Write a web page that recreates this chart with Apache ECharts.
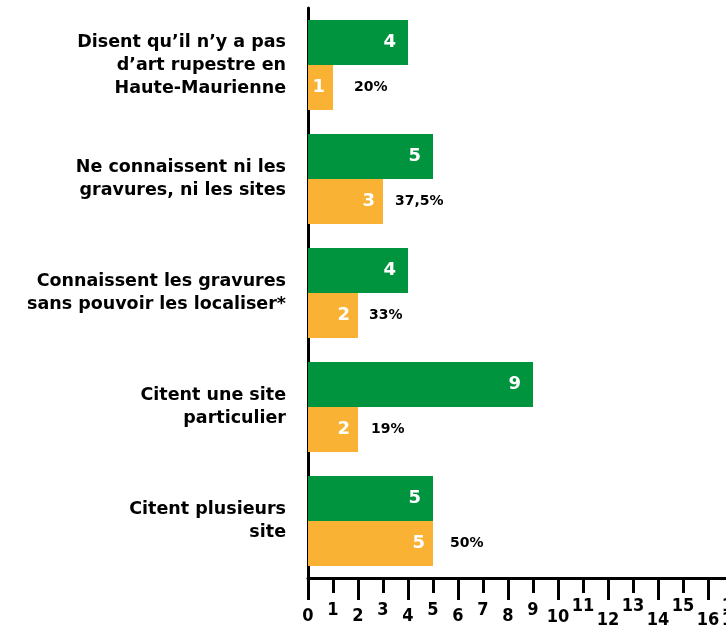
<!DOCTYPE html>
<html><head><meta charset="utf-8">
<script src="https://cdn.jsdelivr.net/npm/echarts@6/dist/echarts.min.js"></script>
<style>html,body{margin:0;padding:0;background:#fff;overflow:hidden}#c{width:760px;height:632px}</style>
</head><body><div id="c"></div>
<script>
const categories = [
  "Disent qu\u2019il n\u2019y a pas\nd\u2019art rupestre en\nHaute-Maurienne",
  "Ne connaissent ni les\ngravures, ni les sites",
  "Connaissent les gravures\nsans pouvoir les localiser*",
  "Citent une site\nparticulier",
  "Citent plusieurs\nsite"
];
const greenValues = [4, 5, 4, 9, 5];
const orangeValues = [1, 3, 2, 2, 5];
const percentLabels = ["20%", "37,5%", "33%", "19%", "50%"];

const FONT = '"DejaVu Sans", sans-serif';
const AXFONT = '"DejaVu Sans Condensed", "DejaVu Sans", sans-serif';
const GREEN = '#00943f';
const ORANGE = '#f9b233';
const pctGap = [21, 12, 11, 13, 17];

function rs(pad) {
  return {fontFamily: AXFONT, fontWeight: 'bold', fontSize: 18, color: '#000', padding: [pad, 0, 0, 0]};
}

const chart = echarts.init(document.getElementById('c'), null, {renderer: 'canvas'});
chart.setOption({
  animation: false,
  backgroundColor: '#fff',
  grid: {left: 308, top: 8, height: 570, width: 425, containLabel: false},
  xAxis: [
    {
      type: 'value', min: 0, max: 17, interval: 2, position: 'bottom',
      axisLine: {show: true, lineStyle: {color: '#000', width: 3}},
      axisTick: {show: true, length: 22, lineStyle: {color: '#000', width: 3}},
      splitLine: {show: false},
      axisLabel: {
        margin: 26, fontFamily: AXFONT, fontWeight: 'bold', fontSize: 18, color: '#000',
        formatter: v => v >= 12 ? '{c|' + v + '}' : (v === 10 ? '{b|' + v + '}' : '{a|' + v + '}'),
        rich: {a: rs(3), b: rs(4), c: rs(7)}
      }
    },
    {
      type: 'value', min: 0, max: 17, interval: 1, position: 'bottom',
      axisLine: {show: false},
      axisTick: {show: true, length: 15, lineStyle: {color: '#000', width: 3}},
      splitLine: {show: false},
      axisLabel: {
        margin: 19, fontFamily: AXFONT, fontWeight: 'bold', fontSize: 18, color: '#000',
        formatter: v => v % 2 === 0 ? '' : (v >= 11 ? '{h|' + v + '}' : '{n|' + v + '}'),
        rich: {n: rs(4), h: rs(0)}
      }
    }
  ],
  yAxis: {
    type: 'category', data: categories, inverse: true,
    axisLine: {show: true, lineStyle: {color: '#000', width: 3}},
    axisTick: {show: false},
    axisLabel: {
      margin: 22, fontFamily: FONT, fontWeight: 'bold', fontSize: 17.5, color: '#000',
      lineHeight: 23, align: 'right'
    }
  },
  series: [
    {
      type: 'bar', name: 'green', data: greenValues, xAxisIndex: 0,
      barGap: '0%', barCategoryGap: '21%',
      itemStyle: {color: GREEN},
      label: {show: true, position: 'insideRight', distance: 12, color: '#fff',
        fontFamily: FONT, fontWeight: 'bold', fontSize: 18}
    },
    {
      type: 'bar', name: 'orange', data: orangeValues, xAxisIndex: 0, stack: 'o',
      barGap: '0%', barCategoryGap: '21%',
      itemStyle: {color: ORANGE},
      label: {show: true, position: 'insideRight', distance: 8, color: '#fff',
        fontFamily: FONT, fontWeight: 'bold', fontSize: 18}
    },
    {
      type: 'bar', name: 'pct', xAxisIndex: 0, stack: 'o',
      barGap: '0%', barCategoryGap: '21%',
      data: percentLabels.map((p, i) => ({value: 0, label: {distance: pctGap[i]}})),
      itemStyle: {color: 'rgba(0,0,0,0)'},
      label: {show: true, position: 'right', color: '#000',
        fontFamily: FONT, fontWeight: 'bold', fontSize: 14,
        formatter: p => percentLabels[p.dataIndex]}
    }
  ]
});
</script></body></html>
